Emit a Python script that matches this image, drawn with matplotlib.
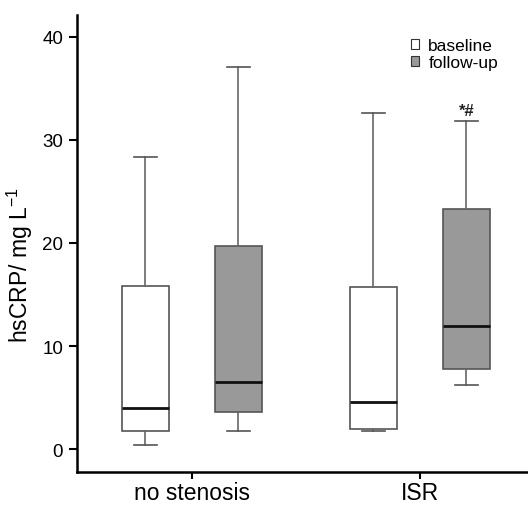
import matplotlib
matplotlib.use("Agg")
import matplotlib.pyplot as plt
from matplotlib.patches import Rectangle

plt.rcParams['font.family'] = ['Liberation Sans', 'DejaVu Sans']
plt.rcParams['mathtext.fontset'] = 'custom'
plt.rcParams['mathtext.rm'] = 'Liberation Sans'

categories = ["no stenosis", "ISR"]
series = ["baseline", "follow-up"]
# [whislo, q1, median, q3, whishi]
baseline_stats = [[0.4, 1.8, 4.0, 15.8, 28.3], [1.75, 1.95, 4.6, 15.7, 32.6]]
followup_stats = [[1.75, 3.6, 6.5, 19.7, 37.1], [6.2, 7.75, 11.9, 23.3, 31.8]]
annotation = "*#"
yticks = [0, 10, 20, 30, 40]

fig = plt.figure(figsize=(5.28, 5.06), dpi=100)
ax = fig.add_axes([0.146, 0.065, 0.854, 0.903])

offset = 0.204
width = 0.206
fills = ["white", "#999999"]
for si, (stats_list, fill) in enumerate(zip([baseline_stats, followup_stats], fills)):
    stats = []
    for s in stats_list:
        stats.append(dict(whislo=s[0], q1=s[1], med=s[2], q3=s[3], whishi=s[4], fliers=[]))
    pos = [i + (offset if si else -offset) for i in range(len(categories))]
    ax.bxp(stats, positions=pos, widths=width, patch_artist=True, showfliers=False,
           boxprops=dict(facecolor=fill, edgecolor="#555555", linewidth=1.2),
           medianprops=dict(color="#111111", linewidth=2),
           whiskerprops=dict(color="#666666", linewidth=1.2),
           capprops=dict(color="#555555", linewidth=1.2),
           capwidths=width / 2, manage_ticks=False)

ax.text(1 + offset, followup_stats[1][4] + 0.35, annotation, ha="center", va="bottom",
        fontsize=12, fontweight="bold", color="#222222")

ax.set_xlim(-0.504, 1.474)
ax.set_ylim(-2.23, 42.1)
ax.set_xticks(range(len(categories)))
ax.set_xticklabels(categories, fontsize=16.5)
ax.set_yticks(yticks)
ax.set_yticklabels([str(t) for t in yticks], fontsize=13.5)
ax.set_ylabel(r"hsCRP/ mg L$^{\mathregular{-1}}$", fontsize=16.5)
ax.yaxis.set_label_coords(-0.093, 0.455)
for sp in ["top", "right"]:
    ax.spines[sp].set_visible(False)
for sp in ["left", "bottom"]:
    ax.spines[sp].set_linewidth(1.8)
ax.tick_params(axis="y", width=1.5, length=6, pad=4)
ax.tick_params(axis="x", width=1.5, length=5, pad=1.5)

handles = [Rectangle((0, 0), 1, 1, facecolor=f, edgecolor="#333333", linewidth=0.8) for f in fills]
leg = ax.legend(handles, series, loc="upper left", bbox_to_anchor=(0.725, 0.965), frameon=False,
                fontsize=12.5, handlelength=0.45, handleheight=0.45, handletextpad=0.55,
                labelspacing=0.12, borderaxespad=0)

fig.savefig("out.png", dpi=100)
